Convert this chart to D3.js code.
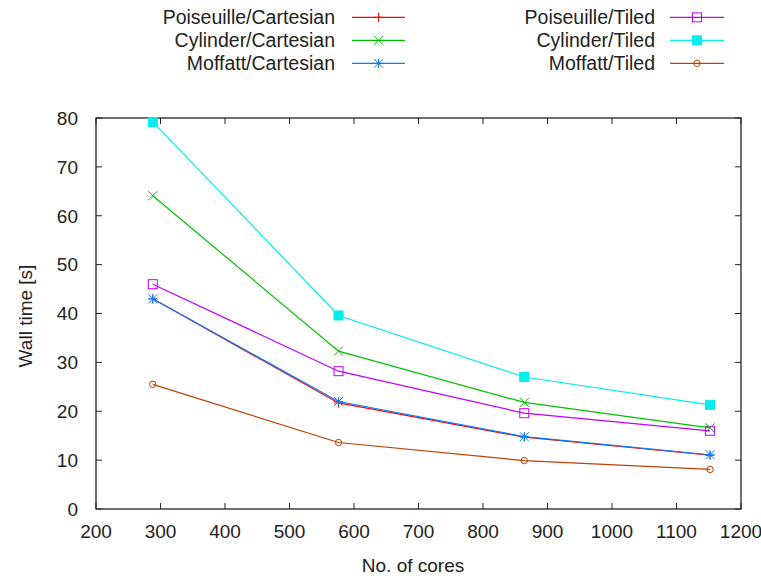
<!DOCTYPE html>
<html><head><meta charset="utf-8">
<script src="https://cdn.jsdelivr.net/npm/d3@7"></script>
<style>body{margin:0;background:#fff}svg{display:block}text{font-family:"Liberation Sans",Arial,sans-serif;fill:#222}</style>
</head><body><svg id="c" width="761" height="579"></svg>
<script>
const cores = [288, 576, 864, 1152];
const poiseuilleCartesian = [43.0, 21.7, 14.7, 11.0];
const cylinderCartesian = [64.1, 32.3, 21.8, 16.6];
const moffattCartesian = [43.0, 22.0, 14.8, 11.1];
const poiseuilleTiled = [46.0, 28.2, 19.6, 16.0];
const cylinderTiled = [79.2, 39.6, 27.0, 21.3];
const moffattTiled = [25.5, 13.6, 9.9, 8.1];
const xTicks = [200,300,400,500,600,700,800,900,1000,1100,1200];
const yTicks = [0,10,20,30,40,50,60,70,80];

const series = [
  {name:"Poiseuille/Cartesian", values:poiseuilleCartesian, color:"#ff0000", mark:"plus"},
  {name:"Cylinder/Cartesian", values:cylinderCartesian, color:"#00c000", mark:"cross"},
  {name:"Moffatt/Cartesian", values:moffattCartesian, color:"#0080ff", mark:"star"},
  {name:"Poiseuille/Tiled", values:poiseuilleTiled, color:"#c000ff", mark:"square"},
  {name:"Cylinder/Tiled", values:cylinderTiled, color:"#00eeee", mark:"fsquare"},
  {name:"Moffatt/Tiled", values:moffattTiled, color:"#c04000", mark:"circle"}
];

const FS = 19, LFS = 19.5;
const svg = d3.select("#c");
const L=96,R=741,T=118,B=509;
const x = d3.scaleLinear().domain([200,1200]).range([L,R]);
const y = d3.scaleLinear().domain([0,80]).range([B,T]);

// frame
svg.append("rect").attr("x",L).attr("y",T).attr("width",R-L).attr("height",B-T)
  .attr("fill","none").attr("stroke","#222").attr("stroke-width",1.3);

const tl=6;
const g = svg.append("g");
xTicks.forEach(v=>{
  g.append("line").attr("x1",x(v)).attr("x2",x(v)).attr("y1",B).attr("y2",B-tl).attr("stroke","#222");
  g.append("line").attr("x1",x(v)).attr("x2",x(v)).attr("y1",T).attr("y2",T+tl).attr("stroke","#222");
  g.append("text").attr("x",x(v)).attr("y",538).attr("text-anchor","middle").attr("font-size",FS).text(v);
});
yTicks.forEach(v=>{
  g.append("line").attr("x1",L).attr("x2",L+tl).attr("y1",y(v)).attr("y2",y(v)).attr("stroke","#222");
  g.append("line").attr("x1",R).attr("x2",R-tl).attr("y1",y(v)).attr("y2",y(v)).attr("stroke","#222");
  g.append("text").attr("x",78).attr("y",y(v)+6.8).attr("text-anchor","end").attr("font-size",FS).text(v);
});
svg.append("text").attr("x",413).attr("y",572).attr("text-anchor","middle").attr("font-size",FS).text("No. of cores");
svg.append("text").attr("transform","translate(32,316) rotate(-90)").attr("text-anchor","middle").attr("font-size",FS).text("Wall time [s]");

function marker(sel, type, cx, cy, color){
  const s=4.5;
  if(type==="plus"){
    sel.append("path").attr("d",`M${cx-s},${cy}H${cx+s}M${cx},${cy-s}V${cy+s}`).attr("stroke",color).attr("fill","none");
  } else if(type==="cross"){
    sel.append("path").attr("d",`M${cx-s},${cy-s}L${cx+s},${cy+s}M${cx-s},${cy+s}L${cx+s},${cy-s}`).attr("stroke",color).attr("fill","none");
  } else if(type==="star"){
    sel.append("path").attr("d",`M${cx-s},${cy}H${cx+s}M${cx},${cy-s}V${cy+s}M${cx-s},${cy-s}L${cx+s},${cy+s}M${cx-s},${cy+s}L${cx+s},${cy-s}`).attr("stroke",color).attr("fill","none");
  } else if(type==="square"){
    sel.append("rect").attr("x",cx-s).attr("y",cy-s).attr("width",2*s).attr("height",2*s).attr("stroke",color).attr("fill","none");
  } else if(type==="fsquare"){
    sel.append("rect").attr("x",cx-s).attr("y",cy-s).attr("width",2*s).attr("height",2*s).attr("stroke",color).attr("fill",color);
  } else if(type==="circle"){
    sel.append("circle").attr("cx",cx).attr("cy",cy).attr("r",3.2).attr("stroke",color).attr("fill","none");
  }
}

const line = d3.line().x((d,i)=>x(cores[i])).y(d=>y(d));
const order=[5,3,1,4,0,2];
order.forEach(k=>{
  const s=series[k];
  const gg=svg.append("g");
  gg.append("path").attr("d",line(s.values)).attr("fill","none").attr("stroke",s.color).attr("stroke-width",1.2);
  s.values.forEach((v,i)=>marker(gg,s.mark,x(cores[i]),y(v),s.color));
});

// legend
series.forEach((s,i)=>{
  const col=Math.floor(i/3), row=i%3;
  const tx = col===0?335:655, lx1 = col===0?352:670, lx2=col===0?405:724;
  const base = 24+row*23;
  const ly = base-6.7;
  svg.append("text").attr("x",tx).attr("y",base).attr("text-anchor","end").attr("font-size",LFS).text(s.name);
  svg.append("line").attr("x1",lx1).attr("x2",lx2).attr("y1",ly).attr("y2",ly).attr("stroke",s.color).attr("stroke-width",1.2);
  marker(svg,s.mark,(lx1+lx2)/2,ly,s.color);
});
</script></body></html>
